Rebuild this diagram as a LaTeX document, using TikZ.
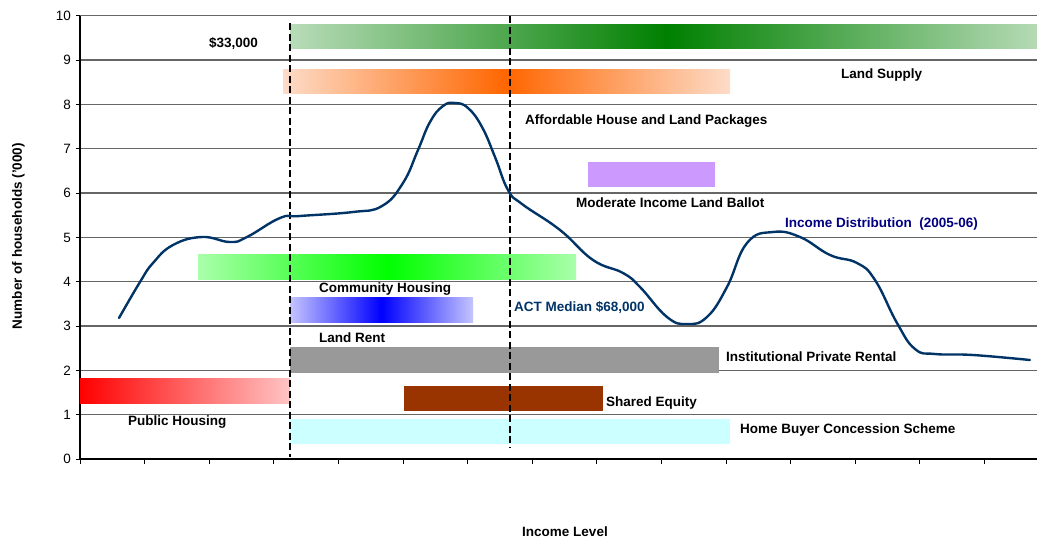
\documentclass[tikz,border=0pt]{standalone}
\usepackage{fontspec}
\setmainfont{Liberation Sans}
\definecolor{curveblue}{RGB}{0,51,102}
\definecolor{distblue}{RGB}{0,0,128}
\definecolor{paleGreen}{RGB}{184,220,184}
\definecolor{paleOrange}{RGB}{253,220,200}
\definecolor{paleLime}{RGB}{170,255,170}
\definecolor{paleBlue}{RGB}{196,196,255}
\definecolor{paleRed}{RGB}{255,196,196}
\tikzset{
	lbl/.style = {
		font=\fontsize{13.5}{16}\selectfont\bfseries,
		inner sep=0pt, text height=9.7pt, text depth=0pt, anchor=west
	},
	ticklbl/.style = {
		font=\fontsize{13.5}{16}\selectfont,
		inner sep=0pt, text height=9.7pt, text depth=0pt, anchor=east
	},
	gridline/.style = {black!60, line width=1.2pt},
	medianline/.style = {black, line width=2.3pt, dash pattern=on 7pt off 3.5pt}
}

\begin{document}
\begin{tikzpicture}[x=1pt, y=-1pt]
	\useasboundingbox (0, 0) rectangle (1037, 539);
	\clip (0, 0) rectangle (1037, 539);
	\def\yunit{44.33}
	\foreach \k in {1,...,10}
	{
		\draw [gridline] (80, {459-\yunit*\k}) -- (1044, {459-\yunit*\k});
	}
	\foreach \k in {0,...,10}
	{
		\draw [black, line width=1pt] (76, {459-\yunit*\k}) -- (80, {459-\yunit*\k});
		\node [ticklbl] (tick\k) at (71, {459-\yunit*\k}) {\k};
	}
	\foreach \k in {0,...,15}
	{
		\draw [black, line width=1pt] ({80+64.6*\k}, 459) -- ({80+64.6*\k}, 463.5);
	}
	\draw [black, line width=1.2pt] (80, 16) -- (80, 459) -- (1044, 459);
	\shade [left color=paleGreen, right color=paleGreen, middle color={rgb,255:red,0;green,128;blue,0}] (290, 24) rectangle (1044, 48.7);
	\shade [left color=paleOrange, right color=paleOrange, middle color={rgb,255:red,255;green,102;blue,0}] (283, 69) rectangle (730, 93.7);
	\fill [color={rgb,255:red,204;green,153;blue,255}] (588, 162) rectangle (715, 186.7);
	\shade [left color=paleLime, right color=paleLime, middle color={rgb,255:red,0;green,255;blue,0}] (198, 254) rectangle (576, 279);
	\shade [left color=paleBlue, right color=paleBlue, middle color={rgb,255:red,0;green,0;blue,255}] (290, 297) rectangle (473, 322);
	\fill [color={rgb,255:red,153;green,153;blue,153}] (290, 347) rectangle (719, 373);
	\shade [left color={rgb,255:red,255;green,0;blue,0}, right color=paleRed] (80, 378) rectangle (290, 403);
	\fill [color={rgb,255:red,153;green,51;blue,0}] (404, 386) rectangle (603, 411);
	\fill [color={rgb,255:red,204;green,255;blue,255}] (290, 419) rectangle (730, 444);
	\draw [medianline] (290, 23) -- (290, 457);
	\draw [medianline] (510, 16) -- (510, 448);
	\draw [curveblue, line width=2.4pt, line join=round, line cap=round] plot [smooth, tension=0.75] coordinates {
		(119,318) (140,282) (153,263) (173,245) (202,237) (230,242) (247,237)
		(280,218) (300,216) (353,212) (382,206) (403,183) (418,150)
		(430,122) (443,106) (455,103) (468,108) (482,127) (495,157) (508,190)
		(522,204) (560,230)
		(593,260) (623,273) (640,287) (667,317) (687,324) (707,317) (727,287)
		(747,243) (773,232) (800,237) (830,255) (857,263) (875,280) (897,323)
		(915,349) (935,354) (973,355) (1030,360)
	};
	\node [lbl] (low) at (209, 43) {\$33,000};
	\node [lbl] (supply) at (841, 74) {Land Supply};
	\node [lbl] (packages) at (525, 120) {Affordable House and Land Packages};
	\node [lbl] (ballot) at (576, 203) {Moderate Income Land Ballot};
	\node [lbl, text=distblue] (dist) at (785, 223) {Income Distribution\ \ (2005-06)};
	\node [lbl] (community) at (319, 288) {Community Housing};
	\node [lbl, text=curveblue] (median) at (514, 307) {ACT Median \$68,000};
	\node [lbl] (rent) at (319, 338) {Land Rent};
	\node [lbl] (private) at (726, 357) {Institutional Private Rental};
	\node [lbl] (equity) at (606, 402) {Shared Equity};
	\node [lbl] (public) at (128, 421) {Public Housing};
	\node [lbl] (buyer) at (740, 429) {Home Buyer Concession Scheme};
	\node [lbl, anchor=center, rotate=90] (ylabel) at (17, 236) {Number of households ('000)};
	\node [lbl, anchor=center] (xlabel) at (565, 532) {Income Level};
\end{tikzpicture}
\end{document}
